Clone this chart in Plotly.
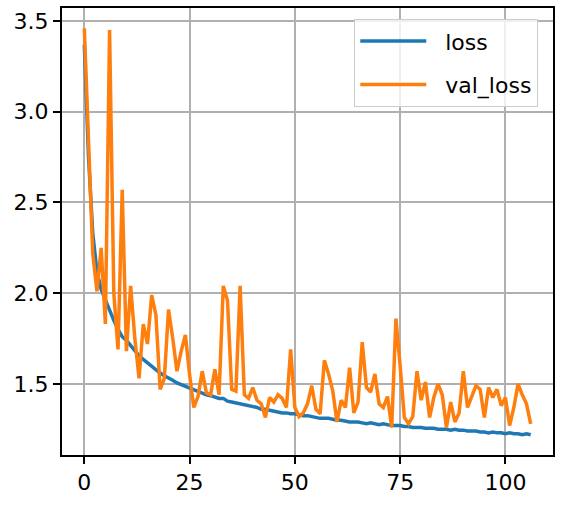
import plotly.graph_objects as go

epochs = list(range(107))

loss = [3.37, 2.75, 2.33, 2.12, 2.02, 1.96, 1.91, 1.85, 1.80, 1.76,
        1.74, 1.71, 1.68, 1.655, 1.635, 1.615, 1.60, 1.58, 1.56, 1.545,
        1.535, 1.52, 1.505, 1.495, 1.49, 1.48, 1.47, 1.455, 1.45, 1.44,
        1.435, 1.425, 1.42, 1.42, 1.405, 1.40, 1.395, 1.39, 1.385, 1.38,
        1.375, 1.37, 1.36, 1.36, 1.355, 1.35, 1.345, 1.34, 1.34, 1.335,
        1.335, 1.33, 1.325, 1.325, 1.32, 1.315, 1.31, 1.31, 1.31, 1.305,
        1.30, 1.30, 1.295, 1.29, 1.29, 1.29, 1.285, 1.28, 1.285, 1.28,
        1.275, 1.28, 1.275, 1.27, 1.27, 1.27, 1.265, 1.265, 1.26, 1.26,
        1.26, 1.255, 1.255, 1.255, 1.25, 1.25, 1.25, 1.245, 1.25, 1.245,
        1.245, 1.24, 1.24, 1.24, 1.235, 1.235, 1.23, 1.235, 1.23, 1.23,
        1.225, 1.23, 1.225, 1.225, 1.22, 1.225, 1.22]

val_loss = [3.46, 2.82, 2.22, 2.01, 2.25, 1.83, 3.45, 2.00, 1.69, 2.57,
            1.68, 2.04, 1.75, 1.53, 1.83, 1.72, 1.99, 1.88, 1.47, 1.53,
            1.91, 1.75, 1.57, 1.68, 1.77, 1.55, 1.37, 1.43, 1.57, 1.45,
            1.44, 1.58, 1.44, 2.04, 1.96, 1.47, 1.46, 2.04, 1.44, 1.42,
            1.48, 1.41, 1.39, 1.315, 1.425, 1.40, 1.44, 1.42, 1.37, 1.69,
            1.37, 1.32, 1.34, 1.39, 1.49, 1.36, 1.335, 1.63, 1.555, 1.46,
            1.29, 1.41, 1.37, 1.59, 1.34, 1.40, 1.73, 1.48, 1.455, 1.555,
            1.39, 1.37, 1.43, 1.26, 1.86, 1.60, 1.315, 1.28, 1.32, 1.57,
            1.41, 1.51, 1.315, 1.425, 1.50, 1.44, 1.26, 1.40, 1.29, 1.34,
            1.57, 1.37, 1.425, 1.49, 1.47, 1.315, 1.48, 1.425, 1.47, 1.38,
            1.425, 1.27, 1.37, 1.50, 1.44, 1.39, 1.28]

series_names = ["loss", "val_loss"]
x_ticks = [0, 25, 50, 75, 100]
y_ticks = [1.5, 2.0, 2.5, 3.0, 3.5]

pad = "\u00a0\u00a0"

fig = go.Figure()
fig.add_trace(go.Scatter(x=epochs, y=loss, mode="lines",
                         name=pad + series_names[0], legendgroup="a",
                         line=dict(color="#1f77b4", width=3.5)))
fig.add_trace(go.Scatter(x=epochs, y=val_loss, mode="lines",
                         name=pad + series_names[1], legendgroup="b",
                         line=dict(color="#ff7f0e", width=3.5)))

axis_common = dict(
    showgrid=True, gridcolor="#b0b0b0", gridwidth=1.5,
    showline=True, linecolor="black", linewidth=2, mirror=True,
    ticks="outside", ticklen=7, tickwidth=2, tickcolor="black",
    zeroline=False,
    tickfont=dict(family="DejaVu Sans", size=22, color="black"),
)

fig.update_xaxes(range=[-5.3, 111.3], tickvals=x_ticks, **axis_common)
fig.update_yaxes(range=[1.108, 3.572], tickvals=y_ticks, tickformat=".1f",
                 **axis_common)

fig.update_layout(
    width=561, height=505,
    margin=dict(l=62, r=6, t=7, b=50),
    paper_bgcolor="white", plot_bgcolor="white",
    showlegend=True,
    legend=dict(x=0.97, y=0.975, xanchor="right", yanchor="top",
                bgcolor="rgba(255,255,255,0.8)", bordercolor="#cccccc",
                borderwidth=1, itemwidth=66,
                traceorder="grouped", tracegroupgap=12,
                font=dict(family="DejaVu Sans", size=22, color="black")),
)

fig.write_html("out.html")
